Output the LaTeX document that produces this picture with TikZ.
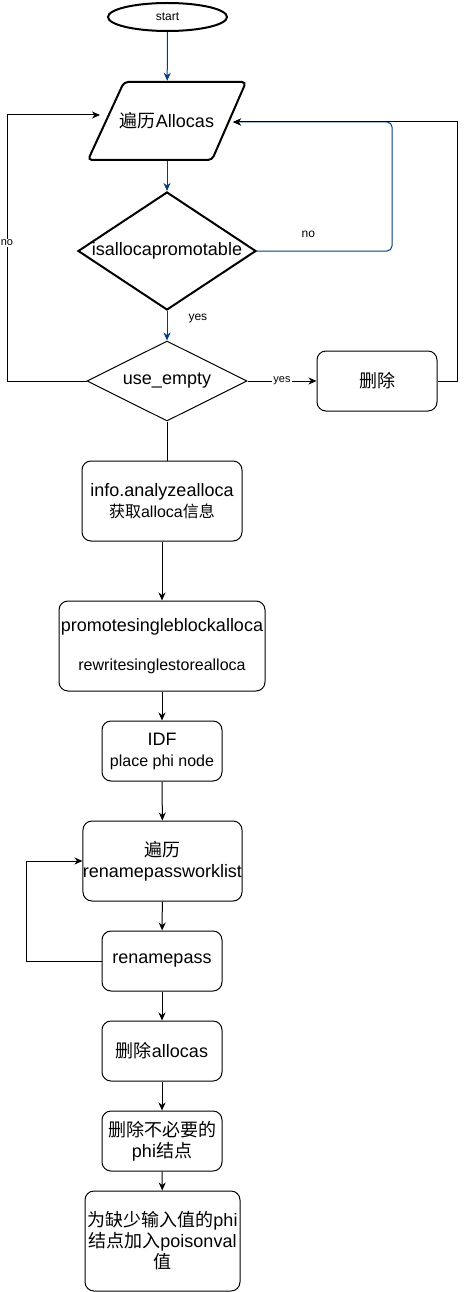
\documentclass[tikz,border=0pt]{standalone}
\usepackage{fontspec}
\setmainfont{Liberation Sans}
\newfontfamily\cjk{Noto Sans CJK SC}
\usetikzlibrary{shapes.geometric,arrows.meta}
\definecolor{flowblue}{RGB}{0,61,122}
\newcommand{\zh}[1]{{\cjk #1}}
\newcommand{\smalltext}{\fontsize{16}{19}\selectfont}

\begin{document}
\begin{tikzpicture}[x=1pt,y=-1pt]
        \tikzset{box/.style = {shape=rectangle,rounded corners=9pt,draw,line width=1pt,align=center,inner sep=0pt,font=\fontsize{18}{21}\selectfont}}
        \tikzset{edge/.style = {-{Stealth[length=8pt,width=7pt,inset=2.5pt]},line width=1pt}}
        \tikzset{lbl/.style = {inner sep=1pt,text=black,font=\fontsize{12}{14}\selectfont}}
        \useasboundingbox (0,0) rectangle (466,1292);
        % vertices
        \node[ellipse,draw,line width=2pt,minimum width=119pt,minimum height=28pt,inner sep=0pt,font=\fontsize{12}{14}\selectfont] (start) at (167.5,17) {start};
        \node[minimum width=160pt,minimum height=80pt,inner sep=0pt,font=\fontsize{18}{21}\selectfont] (allocas) at (167,121) {\zh{遍历}Allocas};
        \draw[line width=2pt,rounded corners=4pt] (124,82) -- (246,82) -- (212,160) -- (88,160) -- cycle;
        \node[diamond,draw,line width=2pt,aspect=1.5,inner sep=0pt,minimum width=178pt,minimum height=118pt,font=\fontsize{18}{21}\selectfont] (prom) at (167,251) {isallocapromotable};
        \node[diamond,draw,line width=1pt,aspect=2,inner sep=0pt,minimum width=160pt,minimum height=80pt,font=\fontsize{18}{21}\selectfont] (empty) at (167,381) {use\_empty};
        \node[box,minimum width=120pt,minimum height=60pt] (del) at (377,381) {\zh{删除}};
        \node[box,minimum width=160pt,minimum height=80pt] (info) at (162,501) {info.analyzealloca\\{\smalltext\zh{获取}alloca\zh{信息}}};
        \node[box,minimum width=206pt,minimum height=90pt] (promote) at (162,646) {promotesingleblockalloca\\[18pt]{\smalltext rewritesinglestorealloca}};
        \node[box,minimum width=120pt,minimum height=60pt] (idf) at (162,751) {IDF\\{\smalltext place phi node}};
        \node[box,minimum width=155pt,minimum height=80pt] (walk) at (162.5,861) {\zh{遍历}\\renamepassworklist};
        \node[box,minimum width=120pt,minimum height=60pt] (rename) at (162,961) {renamepass};
        \node[box,minimum width=120pt,minimum height=60pt] (delall) at (162,1051) {\zh{删除}allocas};
        \node[box,minimum width=120pt,minimum height=60pt] (delphi) at (162,1141) {\zh{删除不必要的}\\phi\zh{结点}};
        \node[box,minimum width=155pt,minimum height=100pt] (poison) at (162.5,1241) {\zh{为缺少输入值的}phi\\\zh{结点加入}poisonval\\\zh{值}};
        \coordinate (allocasL) at (100,115);
        \coordinate (allocasR) at (233,122);
        \coordinate (rturn) at (392,122);
        \coordinate (lturn) at (7,381);
        %edges
        \draw[edge,flowblue] (start) to (allocas);
        \draw[edge,flowblue] (allocas) to (prom);
        \draw[edge,flowblue] (prom) to node[lbl,right,pos=0.25,xshift=20pt] {yes} (empty);
        \draw[edge,flowblue,rounded corners=5pt] (prom.east) -| node[lbl,above=12pt,pos=0.19] {no} (rturn) -- (allocasR);
        \draw[edge] (empty.east) to node[lbl,fill=white,font=\fontsize{11}{13}\selectfont] {yes} (del.west);
        \draw[edge] (del.east) -- ++(20,0) |- (allocasR);
        \draw[edge] (empty.west) -- (lturn) |- node[lbl,fill=white,pos=0.26,font=\fontsize{11}{13}\selectfont] {no} (allocasL);
        \draw[line width=1pt] (empty.south) -- (empty.south |- info.north);
        \draw[edge] (info) to (promote);
        \draw[edge] (promote) to (idf);
        \draw[edge] (idf) to (walk);
        \draw[edge] (walk) to (rename);
        \draw[edge] (rename.west) -- ++(-75,0) |- (walk.west);
        \draw[edge] (rename) to (delall);
        \draw[edge] (delall) to (delphi);
        \draw[edge] (delphi) to (poison);
\end{tikzpicture}
\end{document}
